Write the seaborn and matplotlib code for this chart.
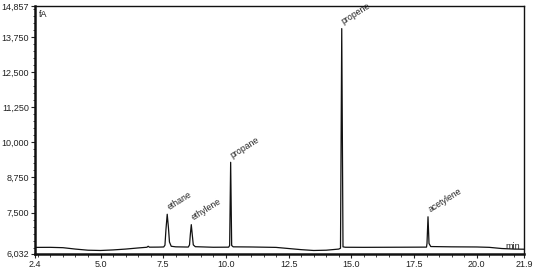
import matplotlib
matplotlib.use("Agg")
import matplotlib.pyplot as plt
from matplotlib.ticker import FuncFormatter, MultipleLocator, FixedLocator
import seaborn as sns
import pandas as pd

# Trace points (time in min, signal in fA)
time_min = [2.4, 3.0, 3.5, 4.0, 4.5, 5.0, 5.5, 6.0, 6.5, 6.85, 6.9, 6.95, 7.3, 7.52,
            7.57, 7.61, 7.66, 7.71, 7.75, 7.82, 8.0, 8.5, 8.55, 8.58, 8.62, 8.66, 8.70, 8.78,
            9.5, 10.11, 10.15, 10.19, 10.23, 10.29, 11.0, 12.0, 12.5, 13.0, 13.5, 14.0,
            14.5, 14.57, 14.62, 14.67, 14.76, 15.5, 16.5, 17.5, 18.0, 18.02, 18.06, 18.10,
            18.17, 19.0, 20.0, 20.5, 21.0, 21.5, 21.9]
signal_fa = [6260, 6262, 6250, 6200, 6160, 6150, 6170, 6200, 6240, 6265, 6300, 6268, 6270, 6275,
             6340, 6900, 7440, 6950, 6450, 6300, 6280, 6272, 6350, 6700, 7070, 6700, 6350, 6285,
             6265, 6268, 6330, 9290, 6330, 6280, 6275, 6260, 6220, 6180, 6150, 6160,
             6200, 6230, 14050, 6280, 6265, 6262, 6265, 6268, 6270, 6400, 7350, 6400,
             6290, 6280, 6275, 6262, 6220, 6200, 6195]

peak_names = ["ethane", "ethylene", "propane", "propene", "acetylene"]
peak_times = [7.66, 8.62, 10.19, 14.62, 18.06]
peak_heights = [7440, 7070, 9290, 14050, 7350]

x_ticks = [2.4, 5.0, 7.5, 10.0, 12.5, 15.0, 17.5, 20.0, 21.9]
x_tick_labels = ["2.4", "5.0", "7.5", "10.0", "12.5", "15.0", "17.5", "20.0", "21.9"]
y_ticks = [6032, 7500, 8750, 10000, 11250, 12500, 13750, 14857]

sns.set_theme(style="ticks")
plt.rcParams["font.family"] = ["Liberation Sans", "DejaVu Sans"]

fig = plt.figure(figsize=(5.35, 2.70), dpi=100)
ax = fig.add_axes([0.066, 0.06, 0.914, 0.918])

df = pd.DataFrame({"time": time_min, "signal": signal_fa})
sns.lineplot(data=df, x="time", y="signal", ax=ax, color="#111111", linewidth=0.9,
             estimator=None, sort=False)

for name, t, h in zip(peak_names, peak_times, peak_heights):
    ax.annotate(name, xy=(t, h), xytext=(1.5, 3), textcoords="offset points",
                rotation=32, rotation_mode="anchor", ha="left", va="baseline",
                fontsize=6.3, color="#222222")

ax.set_xlim(x_ticks[0], x_ticks[-1])
ax.set_ylim(y_ticks[0], y_ticks[-1])
ax.xaxis.set_major_locator(FixedLocator(x_ticks))
ax.set_xticklabels(x_tick_labels)
ax.xaxis.set_minor_locator(MultipleLocator(0.5))
ax.yaxis.set_major_locator(FixedLocator(y_ticks))
ax.yaxis.set_major_formatter(FuncFormatter(lambda v, p: f"{int(round(v)):,}"))
ax.yaxis.set_minor_locator(MultipleLocator(250))

ax.tick_params(axis="both", which="major", labelsize=6.5, length=3, width=0.8,
               colors="#222222", pad=1.5)
ax.tick_params(axis="both", which="minor", length=1.8, width=0.6, color="#222222")
ax.set_xlabel("")
ax.set_ylabel("")

for side, sp in ax.spines.items():
    sp.set_visible(True)
    sp.set_color("#111111")
    sp.set_linewidth(1.0)
ax.spines["left"].set_linewidth(1.8)
ax.spines["bottom"].set_linewidth(1.8)

ax.text(0.008, 0.985, "fA", transform=ax.transAxes, ha="left", va="top",
        fontsize=6.5, color="#222222")
ax.text(0.992, 0.012, "min", transform=ax.transAxes, ha="right", va="bottom",
        fontsize=6.5, color="#222222")

fig.savefig("out.png", dpi=100, facecolor="white")
